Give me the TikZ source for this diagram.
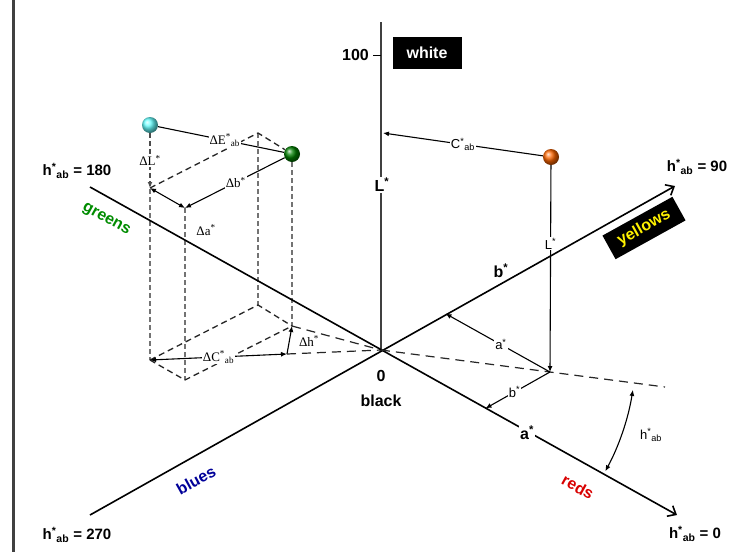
\documentclass[tikz,border=0pt]{standalone}
\usepackage{fontspec}
\setmainfont{Liberation Sans}
\newfontfamily\dfont{Liberation Serif}
\usetikzlibrary{arrows.meta,calc}
\begin{document}
\begin{tikzpicture}[x=1pt,y=-1pt,
  axis/.style={line width=1.6pt, black},
  axistip/.style={-{Straight Barb[length=7pt,width=12pt]}},
  sarrow/.style={line width=1.1pt, -{Latex[length=6pt,width=5pt]}},
  darrow/.style={line width=1.1pt, {Latex[length=6pt,width=5pt]}-{Latex[length=6pt,width=5pt]}},
  dline/.style={line width=1.2pt, dash pattern=on 9pt off 6pt, black!85},
  vdash/.style={line width=2pt, black!55, dash pattern=on 5pt off 3pt},
  fdash/.style={line width=1.3pt, black!85, dash pattern=on 6pt off 4pt},
  lab/.style={font=\bfseries\fontsize{15}{18}\selectfont, inner sep=1pt},
  blab/.style={font=\bfseries\fontsize{16}{19}\selectfont, inner sep=1pt},
  dlab/.style={font=\dfont\fontsize{13}{15}\selectfont, fill=white, inner sep=1pt},
  slab/.style={font=\fontsize{13}{15}\selectfont, fill=white, inner sep=1pt},
  ballnode/.style={circle, inner sep=0pt, minimum size=16pt, shading=ball}
]
\useasboundingbox (0,0) rectangle (744,552);
\fill[white] (0,0) rectangle (744,552);
% frame line at left
\coordinate (F1) at (13,0); \coordinate (F2) at (13,552);
\draw[line width=3pt, black!75] (F1) -- (F2);

% main coordinates
\coordinate (O) at (381,350);
\coordinate (Ltop) at (381,22);
\coordinate (H180) at (90,187);
\coordinate (H0) at (677,515);
\coordinate (H270) at (90,515);
\coordinate (H90) at (675,186);

% left colour-difference box
\node[ballnode, ball color=cyan!60] (cy) at (150,125) {};
\node[ballnode, ball color=green!50!black] (gr) at (292,154) {};
\coordinate (t1) at (150,188);
\coordinate (t2) at (185,208);
\coordinate (t4) at (258,133);
\coordinate (b1) at (150,360);
\coordinate (b2) at (185,380);
\coordinate (b3) at (292,326);
\coordinate (b4) at (258,305);
\coordinate (cE) at (287,354);

\draw[vdash] (cy) -- (b1);
\draw[vdash] (t2) -- (b2);
\draw[vdash] (t4) -- (b4);
\draw[vdash] (gr) -- (b3);
\draw[fdash] (t1) -- (t4) -- (gr);
\draw[fdash] (b1) -- (b4) -- (b3);
\draw[fdash] (b1) -- (b2) -- (b3);
\draw[dline] (cE) -- (O);
\draw[dline] (b3) -- (O);

% axes
\draw[line width=2.6pt, black!75] (O) -- (Ltop);
\draw[axis, axistip] (H180) -- (H0);
\draw[axis, axistip] (H270) -- (H90);

% projection line and sample
\coordinate (Dend) at (665,387);
\draw[dline] (O) -- (Dend);

\coordinate (T1) at (373,55); \coordinate (T2) at (381,55);
\draw[line width=1pt] (T1) -- (T2);
\node[blab, anchor=east] (n100) at (370,55) {100};
\node[blab, fill=black, text=white, minimum width=69pt, minimum height=32pt] (white) at (427,53) {white};
\node[blab, fill=white] (Llab) at (382,185) {L\textsuperscript{*}};
\node[blab] (zero) at (381,376) {0};
\node[blab] (black) at (381,401) {black};

\node[ballnode, ball color=orange!80!red] (org) at (551,157) {};
\coordinate (LC) at (383,133);
\draw[sarrow] (org) -- node[slab, pos=0.5] {C\textsuperscript{*}\textsubscript{ab}} (LC);
\coordinate (P) at (550,372);
\draw[sarrow] (org) -- node[slab, pos=0.38] {L\textsuperscript{*}} (P);
\coordinate (Bp) at (445.5,313.6);
\coordinate (Ap) at (485.5,408.4);
\draw[sarrow] (P) -- node[slab, pos=0.47] {a\textsuperscript{*}} (Bp);
\draw[sarrow] (P) -- node[slab, pos=0.55] {b\textsuperscript{*}} (Ap);

\draw[darrow] ($(O)+(-9:255pt)$) arc[start angle=-9, end angle=-28.4, radius=255pt];
\node[slab, fill=none] (harc) at (651,435) {h\textsuperscript{*}\textsubscript{ab}};

\node[blab] (bstar) at (501,271) {b\textsuperscript{*}};
\node[blab, fill=white] (astar) at (527,433) {a\textsuperscript{*}};

% hue labels
\node[lab] (l180) at (77,171) {h\textsuperscript{*}\textsubscript{ab} = 180};
\node[lab] (l90) at (697,167) {h\textsuperscript{*}\textsubscript{ab} = 90};
\node[lab] (l270) at (77,535) {h\textsuperscript{*}\textsubscript{ab} = 270};
\node[lab] (l0) at (695,534) {h\textsuperscript{*}\textsubscript{ab} = 0};

\node[blab, text=green!55!black, rotate=-29] (greens) at (106,220) {greens};
\node[blab, text=blue!60!black, rotate=29] (blues) at (196,480) {blues};
\node[blab, text=red!85!black, rotate=-29] (reds) at (578,487) {reds};
\node[blab, fill=black, text=yellow, rotate=29, minimum width=80pt, minimum height=27pt] (yellows) at (644,228) {yellows};

% difference arrows
\draw[line width=1.1pt] (cy) -- node[dlab, pos=0.53] {ΔE\textsuperscript{*}\textsubscript{ab}} (gr);
\draw[line width=1.6pt, black!70, dash pattern=on 5pt off 3pt, -{Latex[length=6pt,width=5pt]}] (cy) -- node[dlab, text=black] {ΔL\textsuperscript{*}} (t1);
\draw[sarrow] (gr) -- node[dlab, pos=0.49] {Δb\textsuperscript{*}} (t2);
\draw[darrow] (t1) -- (t2);
\node[dlab, fill=none] (dalab) at (206,230) {Δa\textsuperscript{*}};
\draw[darrow] (b1) -- node[dlab, pos=0.5] {ΔC\textsuperscript{*}\textsubscript{ab}} (cE);
\draw[sarrow] (cE) -- (b3);
\node[dlab, fill=none] (dhlab) at (309,341) {Δh\textsuperscript{*}};
\end{tikzpicture}
\end{document}
